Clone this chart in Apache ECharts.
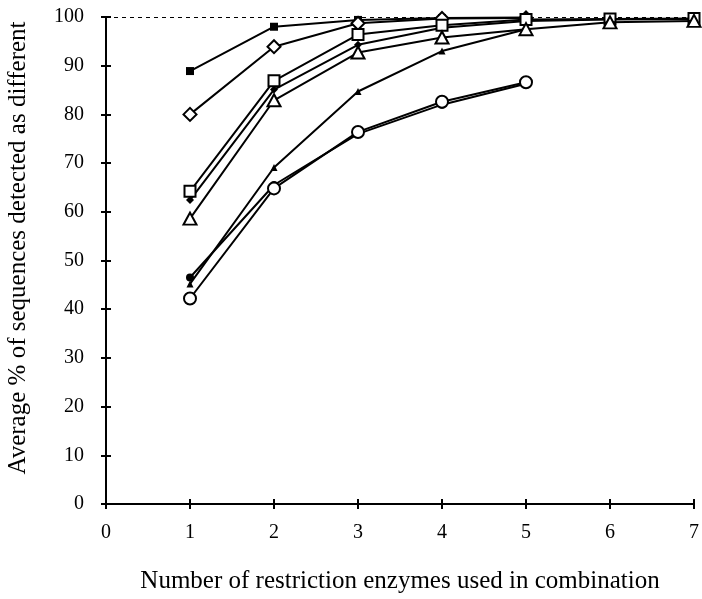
<!DOCTYPE html>
<html>
<head>
<meta charset="utf-8">
<script src="https://cdn.jsdelivr.net/npm/echarts@6/dist/echarts.min.js"></script>
<style>
html,body{margin:0;padding:0;background:#fff;}
#chart{width:702px;height:599px;}
</style>
</head>
<body>
<div id="chart"></div>
<script>
const xValues = [1, 2, 3, 4, 5, 6, 7];
const xTickLabels = ['0', '1', '2', '3', '4', '5', '6', '7'];
const yTickLabels = ['0', '10', '20', '30', '40', '50', '60', '70', '80', '90', '100'];
const xTitle = 'Number of restriction enzymes used in combination';
const yTitle = 'Average % of sequences detected as different';
const filledSquare   = [88.9, 98.0, 99.4, 99.8, 99.9];
const openDiamond    = [80.0, 93.9, 98.7, 99.7, 99.8];
const openSquare     = [64.2, 86.9, 96.4, 98.3, 99.5, 99.6, 99.7];
const filledDiamond  = [62.4, 85.1, 94.3, 97.8, 99.2, 99.5, 99.6];
const openTriangle   = [58.6, 82.9, 92.7, 95.8, 97.5, 98.9, 99.2];
const filledTriangle = [45.2, 69.1, 84.7, 93.0, 97.5];
const filledCircle   = [46.5, 65.5, 76.0, 82.0, 86.3];
const openCircle     = [42.2, 64.8, 76.4, 82.6, 86.6];

const FONT = '"Liberation Serif", "DejaVu Serif", serif';
function pts(arr){ return arr.map((v,i)=>[xValues[i], v]); }
function mk(name, data, symbol, size, filled, z){
  return {
    name, type:'line', data: pts(data), symbol, symbolSize: size,
    xAxisIndex:0, yAxisIndex:0, z: z,
    lineStyle:{color:'#000', width:2},
    itemStyle:{color: filled ? '#000' : '#fff', borderColor:'#000', borderWidth: filled ? 0 : 2},
    emphasis:{disabled:true}, animation:false
  };
}
const chart = echarts.init(document.getElementById('chart'));
const axisCommon = {
  axisLine:{show:true, lineStyle:{color:'#000', width:2}},
  splitLine:{show:false},
};
const series = [
  mk('filledTriangle', filledTriangle, 'triangle', 7, true, 2),
  mk('filledCircle', filledCircle, 'circle', 8, true, 2),
  mk('filledSquare', filledSquare, 'rect', 8, true, 2),
  mk('filledDiamond', filledDiamond, 'diamond', 8, true, 3),
  mk('openDiamond', openDiamond, 'diamond', 13, false, 5),
  mk('openSquare', openSquare, 'rect', 11, false, 6),
  mk('openTriangle', openTriangle, 'triangle', [13, 12], false, 7),
  mk('openCircle', openCircle, 'circle', 12, false, 4),
];
series[0].markLine = {
  symbol:'none', silent:true, animation:false,
  label:{show:false},
  lineStyle:{color:'#000', width:1, type:[4,4]},
  data:[{yAxis:100}]
};
series[0].z = 1;
chart.setOption({
  animation:false,
  backgroundColor:'#fff',
  grid:{left:106, right:6, top:17, bottom:89, containLabel:false},
  graphic:[{
    type:'text',
    x:18, y:248, rotation:Math.PI/2,
    style:{text:yTitle, fill:'#000', font:'25px "Liberation Serif", serif',
      textAlign:'center', textVerticalAlign:'middle'}
  }],
  xAxis:[{
    type:'value', min:0, max:7, interval:1,
    ...axisCommon,
    axisTick:{show:true, length:5, lineStyle:{color:'#000', width:2}},
    axisLabel:{color:'#000', fontFamily:FONT, fontSize:20, margin:19,
      formatter:(v)=>xTickLabels[v]},
    name:xTitle,
    nameLocation:'middle', nameGap:65,
    nameTextStyle:{color:'#000', fontFamily:FONT, fontSize:25}
  },{
    type:'value', min:0, max:7, interval:1, position:'bottom',
    axisLine:{show:false}, splitLine:{show:false},
    axisTick:{show:true, inside:true, length:5, lineStyle:{color:'#000', width:2}},
    axisLabel:{show:false}
  }],
  yAxis:[{
    type:'value', min:0, max:100, interval:10,
    ...axisCommon,
    axisTick:{show:true, length:5, lineStyle:{color:'#000', width:2}},
    axisLabel:{color:'#000', fontFamily:FONT, fontSize:20, margin:22,
      formatter:(v)=>yTickLabels[v/10]}
  },{
    type:'value', min:0, max:100, interval:10, position:'left',
    axisLine:{show:false}, splitLine:{show:false},
    axisTick:{show:true, inside:true, length:5, lineStyle:{color:'#000', width:2}},
    axisLabel:{show:false}
  }],
  series
});
</script>
</body>
</html>
